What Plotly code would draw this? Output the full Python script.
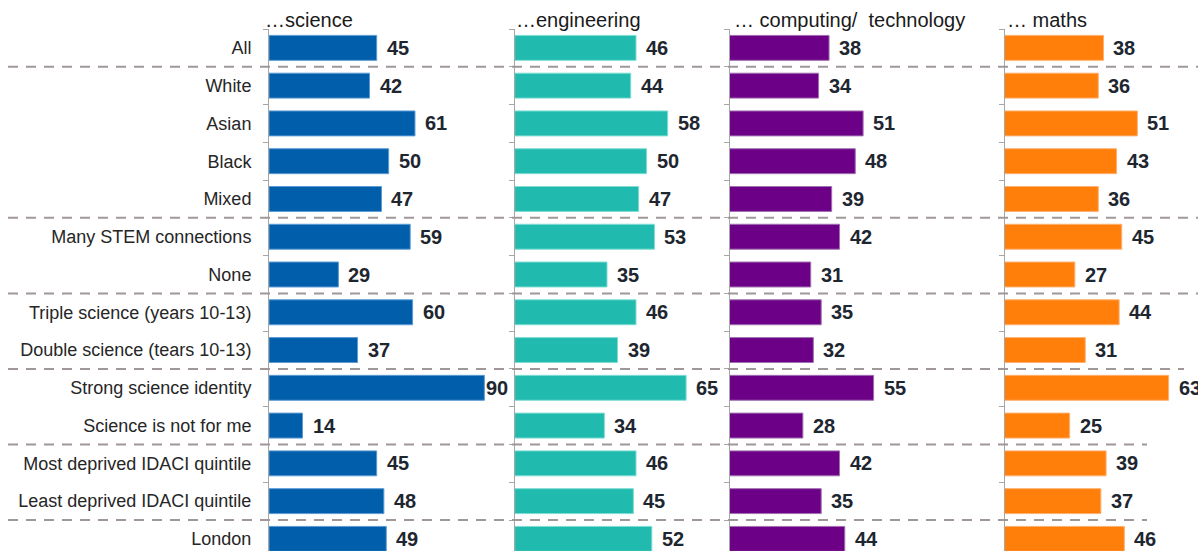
import plotly.graph_objects as go

categories = ["All", "White", "Asian", "Black", "Mixed", "Many STEM connections", "None",
              "Triple science (years 10-13)", "Double science (tears 10-13)",
              "Strong science identity", "Science is not for me",
              "Most deprived IDACI quintile", "Least deprived IDACI quintile", "London"]

science = [45, 42, 61, 50, 47, 59, 29, 60, 37, 90, 14, 45, 48, 49]
engineering = [46, 44, 58, 50, 47, 53, 35, 46, 39, 65, 34, 46, 45, 52]
computing = [38, 34, 51, 48, 39, 42, 31, 35, 32, 55, 28, 42, 35, 44]
maths = [38, 36, 51, 43, 36, 45, 27, 44, 31, 63, 25, 39, 37, 46]

panel_titles = ["\u2026science", "\u2026engineering", "\u2026 computing/  technology", "\u2026 maths"]
series = [science, engineering, computing, maths]

# separators after these category indices (boundary = index + 0.5)
separator_after = [0, 4, 6, 8, 10, 12]
separator_end_px = [1198, 1198, 1198, 1184, 1147, 1147]

W, H = 1198, 551
colors = ["#005EAB", "#20BBAE", "#6C0086", "#FF7F0A"]
edge_colors = ["#5B9BD5", "#7FDDD3", "#A070B0", "#FFB070"]
axis_px = [269, 514.7, 729.5, 1004.5]      # x pixel of each panel's zero line
px_per_unit = [2.393, 2.637, 2.62, 2.605]
panel_end_px = [487, 700, 990, 1198]
title_px = [263, 514, 732, 1005]

top_px = 29
row_pitch = 37.77
n_rows_visible = (H - top_px) / row_pitch
y_range = [-0.5 + n_rows_visible, -0.5]

FONT = "Liberation Sans, Arial, sans-serif"

fig = go.Figure()
annotations = []
layout_axes = {}

for k in range(4):
    xa = "x" if k == 0 else f"x{k+1}"
    ya = "y" if k == 0 else f"y{k+1}"
    fig.add_trace(go.Bar(
        x=series[k], y=categories, orientation="h",
        xaxis=xa, yaxis=ya,
        marker=dict(color=colors[k], line=dict(color=edge_colors[k], width=1)),
        hoverinfo="x+y", showlegend=False,
    ))
    d0 = axis_px[k] / W
    d1 = panel_end_px[k] / W
    rmax = (panel_end_px[k] - axis_px[k]) / px_per_unit[k]
    xkey = "xaxis" if k == 0 else f"xaxis{k+1}"
    ykey = "yaxis" if k == 0 else f"yaxis{k+1}"
    layout_axes[xkey] = dict(domain=[d0, d1], range=[0, rmax], visible=False,
                             anchor=ya, fixedrange=True, automargin=False)
    ydict = dict(domain=[0, (H - top_px) / H], range=y_range, type="category",
                 categoryorder="array", categoryarray=categories,
                 anchor=xa, showline=True, linecolor="#A6A6A6", linewidth=1,
                 ticks="outside", ticklen=5, tickcolor="#A6A6A6", tickwidth=1,
                 tickson="boundaries", showgrid=False, zeroline=False,
                 showticklabels=(k == 0), ticklabelstandoff=13, automargin=False,
                 fixedrange=True,
                 tickfont=dict(family=FONT, size=18, color="#262626"))
    if k > 0:
        ydict["matches"] = "y"
    layout_axes[ykey] = ydict

    # value labels
    pad_units = 8 / px_per_unit[k]
    for i, v in enumerate(series[k]):
        lx = min(v + pad_units, rmax - 1.3)
        annotations.append(dict(
            x=lx, y=categories[i], xref=xa, yref=ya, text="<b>" + str(v) + "</b>",
            showarrow=False, xanchor="left", yanchor="middle",
            font=dict(family=FONT, size=20, color="#1E2630"),
        ))
    # panel titles
    annotations.append(dict(
        x=title_px[k] / W, y=1 - 20 / H, xref="paper", yref="paper",
        text=panel_titles[k], showarrow=False, xanchor="left", yanchor="middle",
        font=dict(family=FONT, size=20, color="#1A1A1A")))

shapes = []
for idx, endpx in zip(separator_after, separator_end_px):
    shapes.append(dict(type="line", xref="paper", yref="y",
                       x0=8 / W, x1=endpx / W, y0=idx + 0.5, y1=idx + 0.5,
                       line=dict(color="#A09898", width=2, dash="10px,8px"),
                       layer="above"))

fig.update_layout(
    width=W, height=H, margin=dict(l=0, r=0, t=0, b=0, autoexpand=False),
    paper_bgcolor="white", plot_bgcolor="rgba(0,0,0,0)",
    bargap=0.34, annotations=annotations, shapes=shapes,
    **layout_axes,
)

fig.write_html(
    "out.html",
    config={"displayModeBar": False},
    post_script="document.body.style.margin='0';document.body.style.overflow='hidden';",
)
